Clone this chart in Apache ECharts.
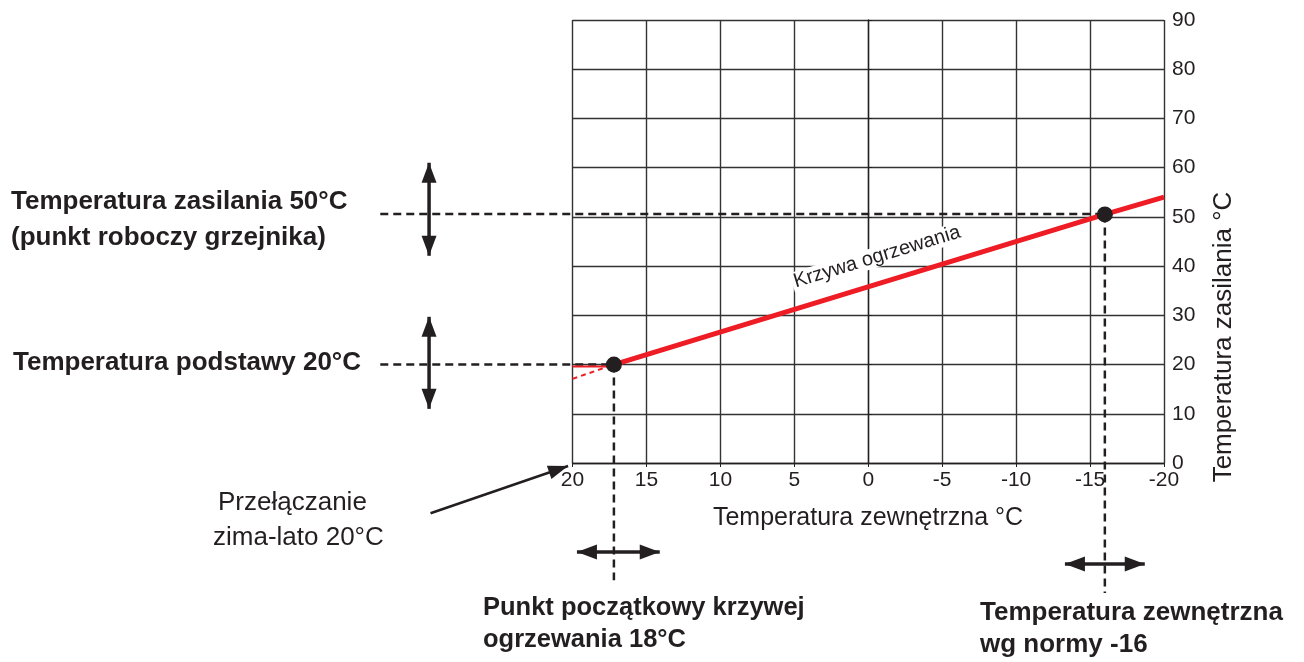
<!DOCTYPE html>
<html>
<head>
<meta charset="utf-8">
<script src="https://cdn.jsdelivr.net/npm/echarts@6/dist/echarts.min.js"></script>
<style>
  html, body { margin: 0; padding: 0; background: #fff; }
  #chart { width: 1304px; height: 662px; }
</style>
</head>
<body>
<div id="chart"></div>
<script>
// dane wykresu (oś X odwrócona: 20 .. -20)
var xMin = -20, xMax = 20, xStep = 5;
var yMin = 0, yMax = 90, yStep = 10;
var curve = [[17.2, 20], [-16, 50.5], [-20, 54]];       // krzywa ogrzewania
var curveLow = [[20, 17.1], [17.2, 20]];                // przedłużenie przerywane
var curveFlat = [[20, 19.6], [17.2, 19.6]];             // odcinek poziomy
var points = [[17.2, 20], [-16, 50.5]];                 // punkt początkowy / punkt normy
// linie pomocnicze (przerywane, wychodzą poza siatkę)
var guides = [
  [[33, 50.6], [-16, 50.6]],
  [[33, 20], [17.2, 20]],
  [[17.2, 20], [17.2, -23.8]],
  [[-16, 50.5], [-16, -26.4]]
];
// strzałki dwustronne
var arrows = [
  [[29.7, 61], [29.7, 42.1]],
  [[29.7, 29.7], [29.7, 11]],
  [[19.7, -18.1], [14.1, -18.1]],
  [[-13.3, -20.5], [-18.7, -20.5]]
];
var pointer = [[29.6, -10.2], [20.3, -0.6]];

var ink = '#231f20';
var red = '#ee1c25';
var font = '"Liberation Sans", Arial, sans-serif';

var myChart = echarts.init(document.getElementById('chart'));

myChart.setOption({
  animation: false,
  grid: { left: 572.5, right: 140, top: 20, bottom: 199 },
  xAxis: {
    type: 'value', min: xMin, max: xMax, interval: xStep, inverse: true,
    axisLine: { show: true, lineStyle: { color: ink, width: 1.3 } },
    axisTick: { show: true, length: 4, lineStyle: { color: ink } },
    axisLabel: { color: ink, fontSize: 21, fontFamily: font, margin: 7 },
    splitLine: { show: true, lineStyle: { color: '#333', width: 1.4 } }
  },
  yAxis: {
    type: 'value', min: yMin, max: yMax, interval: yStep, position: 'right',
    axisLine: { show: true, lineStyle: { color: ink, width: 1.3 } },
    axisTick: { show: true, length: 4, lineStyle: { color: ink } },
    axisLabel: { color: ink, fontSize: 21, fontFamily: font, margin: 8 },
    splitLine: { show: true, lineStyle: { color: '#333', width: 1.4 } }
  },
  series: [
    {
      type: 'line', data: curveFlat, symbol: 'none', z: 4,
      lineStyle: { color: red, width: 2 }
    },
    {
      type: 'line', data: curveLow, symbol: 'none', z: 4,
      lineStyle: { color: red, width: 2, type: [5, 4] }
    },
    {
      type: 'line', data: curve, symbol: 'none', z: 5,
      lineStyle: { color: red, width: 5 }
    },
    {
      type: 'scatter', data: points, symbolSize: 16, z: 6,
      itemStyle: { color: ink, opacity: 1 }
    }
  ]
});

// strzałki, linie pomocnicze i opisy
function px(p) { return myChart.convertToPixel({ gridIndex: 0 }, p); }

function head(tip, from, len, w) {
  var dx = tip[0] - from[0], dy = tip[1] - from[1];
  var d = Math.sqrt(dx * dx + dy * dy);
  var ux = dx / d, uy = dy / d;
  var bx = tip[0] - ux * len, by = tip[1] - uy * len;
  return {
    type: 'polygon', z: 10,
    shape: { points: [tip, [bx - uy * w / 2, by + ux * w / 2], [bx + uy * w / 2, by - ux * w / 2]] },
    style: { fill: ink }
  };
}

var g = [];
guides.forEach(function (a) {
  var p1 = px(a[0]), p2 = px(a[1]);
  g.push({ type: 'line', z: 3, shape: { x1: p1[0], y1: p1[1], x2: p2[0], y2: p2[1] },
    style: { stroke: ink, lineWidth: 2.5, lineDash: [8, 5] } });
});
arrows.forEach(function (a) {
  var p1 = px(a[0]), p2 = px(a[1]);
  g.push({ type: 'line', z: 10, shape: { x1: p1[0], y1: p1[1], x2: p2[0], y2: p2[1] }, style: { stroke: ink, lineWidth: 3.5 } });
  g.push(head(p1, p2, 20, 15));
  g.push(head(p2, p1, 20, 15));
});
var q1 = px(pointer[0]), q2 = px(pointer[1]);
g.push({ type: 'line', z: 10, shape: { x1: q1[0], y1: q1[1], x2: q2[0], y2: q2[1] }, style: { stroke: ink, lineWidth: 2.5 } });
g.push(head(q2, q1, 20, 14));

function txt(x, y, s, opts) {
  var o = {
    type: 'text', x: x, y: y, z: 20,
    style: { text: s, fill: ink, font: (opts && opts.font) || ('26px ' + font), align: 'left', verticalAlign: 'middle' }
  };
  if (opts && opts.align) o.style.align = opts.align;
  if (opts && opts.rotation) o.rotation = opts.rotation;
  if (opts && opts.bg) { o.style.backgroundColor = '#fff'; o.style.padding = [0, 2]; }
  return o;
}
var bold = 'bold 26px ' + font;
g.push(txt(11, 202, 'Temperatura zasilania 50°C', { font: bold }));
g.push(txt(11, 238, '(punkt roboczy grzejnika)', { font: bold }));
g.push(txt(13, 363, 'Temperatura podstawy 20°C', { font: bold }));
g.push(txt(218, 503, 'Przełączanie', {}));
g.push(txt(213, 538, 'zima-lato 20°C', {}));
g.push(txt(868, 518, 'Temperatura zewnętrzna °C', { align: 'center', font: '25px ' + font }));
g.push(txt(483, 608, 'Punkt początkowy krzywej', { font: 'bold 25.5px ' + font }));
g.push(txt(483, 640, 'ogrzewania 18°C', { font: 'bold 25.5px ' + font }));
g.push(txt(980, 613, 'Temperatura zewnętrzna', { font: bold }));
g.push(txt(980, 645, 'wg normy -16', { font: bold }));
g.push(txt(1224, 337, 'Temperatura zasilania °C', { align: 'center', rotation: Math.PI / 2 }));
g.push(txt(877, 257, 'Krzywa ogrzewania', { align: 'center', rotation: 17 * Math.PI / 180, font: '20px ' + font, bg: true }));

myChart.setOption({ graphic: { elements: g } });
</script>
</body>
</html>
